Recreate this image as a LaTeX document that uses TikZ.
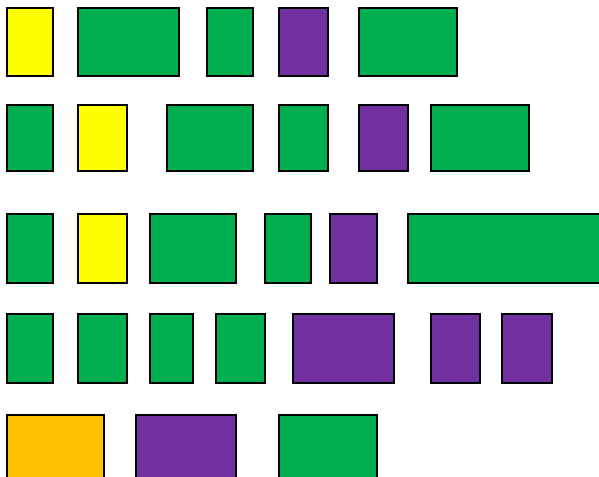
\documentclass[tikz,border=0pt]{standalone}
\definecolor{cyel}{HTML}{FFFF00}
\definecolor{cgrn}{HTML}{00B050}
\definecolor{cpur}{HTML}{7030A0}
\definecolor{corg}{HTML}{FFC000}
\tikzset{blk/.style={draw=black,line width=1.6pt}}
\begin{document}
\begin{tikzpicture}[x=1pt,y=-1pt]
\useasboundingbox (0,0) rectangle (599,476);
\clip (0,0) rectangle (599,476);
% row 1
\path[blk,fill=cyel] (7,8) rectangle (53,76);
\path[blk,fill=cgrn] (78,8) rectangle (179,76);
\path[blk,fill=cgrn] (207,8) rectangle (253,76);
\path[blk,fill=cpur] (279,8) rectangle (328,76);
\path[blk,fill=cgrn] (359,8) rectangle (457,76);
% row 2
\path[blk,fill=cgrn] (7,105) rectangle (53,171);
\path[blk,fill=cyel] (78,105) rectangle (127,171);
\path[blk,fill=cgrn] (167,105) rectangle (253,171);
\path[blk,fill=cgrn] (279,105) rectangle (328,171);
\path[blk,fill=cpur] (359,105) rectangle (408,171);
\path[blk,fill=cgrn] (431,105) rectangle (529,171);
% row 3
\path[blk,fill=cgrn] (7,214) rectangle (53,283);
\path[blk,fill=cyel] (78,214) rectangle (127,283);
\path[blk,fill=cgrn] (150,214) rectangle (236,283);
\path[blk,fill=cgrn] (265,214) rectangle (311,283);
\path[blk,fill=cpur] (330,214) rectangle (377,283);
\path[blk,fill=cgrn] (408,214) rectangle (620,283);
% row 4
\path[blk,fill=cgrn] (7,314) rectangle (53,383);
\path[blk,fill=cgrn] (78,314) rectangle (127,383);
\path[blk,fill=cgrn] (150,314) rectangle (193,383);
\path[blk,fill=cgrn] (216,314) rectangle (265,383);
\path[blk,fill=cpur] (293,314) rectangle (394,383);
\path[blk,fill=cpur] (431,314) rectangle (480,383);
\path[blk,fill=cpur] (502,314) rectangle (552,383);
% row 5
\path[blk,fill=corg] (7,415) rectangle (104,500);
\path[blk,fill=cpur] (136,415) rectangle (236,500);
\path[blk,fill=cgrn] (279,415) rectangle (377,500);
\end{tikzpicture}
\end{document}
